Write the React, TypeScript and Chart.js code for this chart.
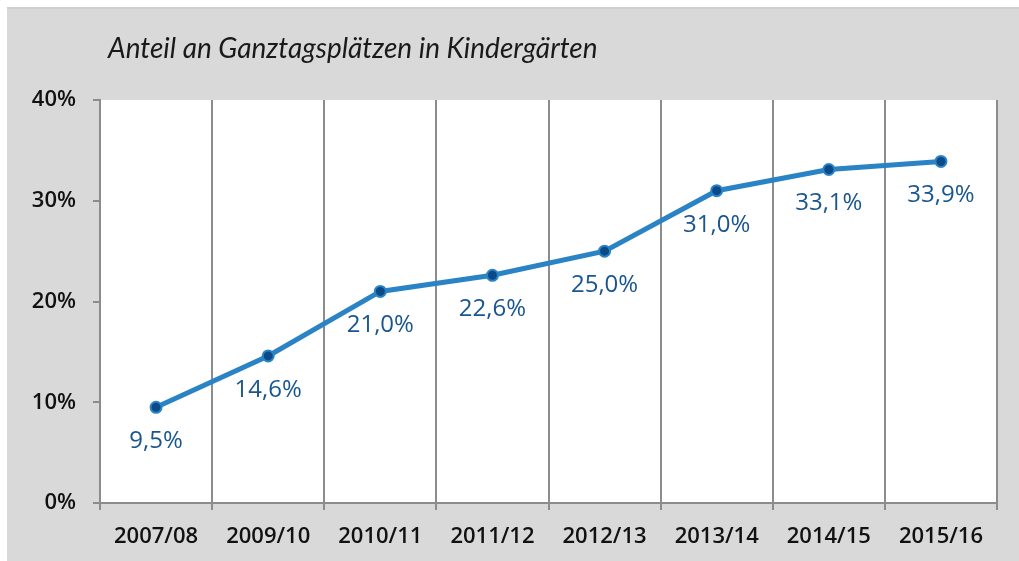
import React, { useEffect, useRef } from "react";
import { Chart, registerables } from "chart.js";

Chart.register(...registerables);

const categories = ["2007/08", "2009/10", "2010/11", "2011/12", "2012/13", "2013/14", "2014/15", "2015/16"];
const shareValues = [9.5, 14.6, 21.0, 22.6, 25.0, 31.0, 33.1, 33.9];
const yTicks = [0, 10, 20, 30, 40];
const titleText = "Anteil an Ganztagsplätzen in Kindergärten";

const FONT = "'Open Sans', 'Noto Sans', sans-serif";

const bgPlugin = {
  id: "bgPlugin",
  beforeDraw(chart: any) {
    const { ctx, chartArea, width, height } = chart;
    ctx.save();
    ctx.fillStyle = "#d9d9d9";
    ctx.fillRect(0, 0, width, height);
    ctx.fillStyle = "#cfcfcf";
    ctx.fillRect(0, 0, width, 2);
    ctx.fillStyle = "#ffffff";
    ctx.fillRect(chartArea.left, chartArea.top, chartArea.right - chartArea.left, chartArea.bottom - chartArea.top);
    ctx.restore();
  },
  afterDraw(chart: any) {
    const { ctx } = chart;
    ctx.save();
    ctx.fillStyle = "#1a1a1a";
    ctx.font = "italic 28px Lato, sans-serif";
    ctx.textAlign = "left";
    ctx.textBaseline = "alphabetic";
    ctx.fillText(titleText, 101, 51);
    ctx.restore();
  },
};

const labelPlugin = {
  id: "labelPlugin",
  afterDatasetsDraw(chart: any) {
    const { ctx } = chart;
    const meta = chart.getDatasetMeta(0);
    ctx.save();
    ctx.fillStyle = "#19568f";
    ctx.font = "24px " + FONT;
    ctx.textAlign = "center";
    ctx.textBaseline = "middle";
    meta.data.forEach((pt: any, i: number) => {
      const v = shareValues[i];
      const txt = v.toFixed(1).replace(".", ",") + "%";
      ctx.fillText(txt, pt.x, pt.y + 34);
    });
    ctx.restore();
  },
};

export default function App() {
  const ref = useRef<HTMLCanvasElement | null>(null);
  useEffect(() => {
    if (!ref.current) return;
    const chart = new Chart(ref.current, {
      type: "line",
      data: {
        labels: categories,
        datasets: [
          {
            data: shareValues,
            borderColor: "#2a83c5",
            borderWidth: 5,
            pointRadius: 5.5,
            pointBackgroundColor: "#0b4a88",
            pointBorderColor: "#2a83c5",
            pointBorderWidth: 2,
            tension: 0,
          },
        ],
      },
      options: {
        animation: false,
        responsive: false,
        layout: { padding: { top: 93, right: 22, left: 0, bottom: 0 } },
        plugins: { legend: { display: false }, tooltip: { enabled: false }, title: { display: false } },
        scales: {
          x: {
            type: "category",
            offset: true,
            grid: { offset: true, color: "#8c8c8c", lineWidth: 2, drawOnChartArea: true, drawTicks: true, tickLength: 7 },
            border: { color: "#8c8c8c", width: 2 },
            ticks: { color: "#111111", font: { family: FONT, size: 22, weight: 600 }, padding: 14, maxRotation: 0 },
            afterFit(scale: any) {
              scale.height = 58;
            },
          },
          y: {
            min: 0,
            max: 40,
            afterBuildTicks(scale: any) {
              scale.ticks = yTicks.map((v) => ({ value: v }));
            },
            grid: { drawOnChartArea: false, drawTicks: true, tickLength: 7, color: "#8c8c8c", lineWidth: 2 },
            border: { color: "#8c8c8c", width: 2 },
            ticks: {
              color: "#111111",
              font: { family: FONT, size: 22, weight: 600 },
              padding: 17,
              callback: (v: any) => v + "%",
            },
            afterFit(scale: any) {
              scale.width = 93;
            },
          },
        },
      },
      plugins: [bgPlugin, labelPlugin],
    });
    return () => chart.destroy();
  }, []);
  return (
    <div style={{ position: "fixed", left: 7, top: 7, width: 1012, height: 554 }}>
      <canvas ref={ref} width={1012} height={554} style={{ display: "block" }} />
    </div>
  );
}
